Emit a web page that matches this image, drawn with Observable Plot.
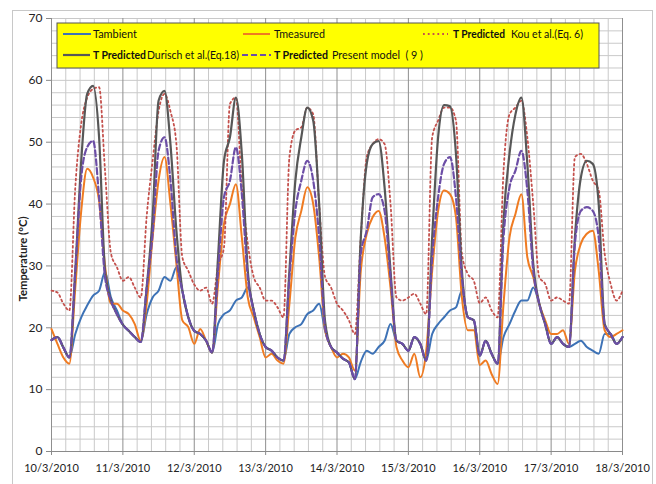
<!DOCTYPE html>
<html><head><meta charset="utf-8">
<script src="https://cdn.jsdelivr.net/npm/d3@7"></script>
<script src="https://cdn.jsdelivr.net/npm/@observablehq/plot@0.6"></script>
<style>
body{margin:0;background:#fff;}
#wrap{position:relative;width:656px;height:484px;overflow:hidden;font-family:Lato,"Open Sans",sans-serif;}
#frame{position:absolute;left:12px;top:10px;width:641px;height:480px;border:1px solid #c8c8c8;box-sizing:border-box;}
#chart{position:absolute;left:0;top:0;}
</style></head><body>
<div id="wrap"><div id="frame"></div><div id="chart"></div></div>
<script>
// sampling: every 2 hours from 10/3/2010 00:00 to 18/3/2010 00:00
const hours = d3.range(0, 193, 2);
const dayLabels = ["10/3/2010","11/3/2010","12/3/2010","13/3/2010","14/3/2010","15/3/2010","16/3/2010","17/3/2010","18/3/2010"];
const yTicks = [0,10,20,30,40,50,60,70];

const tAmbient = [
 18.0,18.5,16.8,15.2,19.0,21.7,23.6,25.2,26.0,29.0,24.9,22.8,
 20.5,19.5,18.5,17.7,22.2,24.9,26.0,28.2,27.6,29.8,26.0,21.7,
 19.5,19.0,17.9,16.0,20.6,22.2,22.8,24.4,24.9,26.5,22.8,19.0,
 16.9,16.3,15.2,14.7,19.0,20.1,20.6,22.2,22.8,23.9,19.5,16.9,
 16.0,15.0,14.4,11.7,14.5,16.3,15.8,16.9,17.9,20.6,17.9,17.4,
 16.3,18.5,17.4,14.7,19.0,20.6,21.7,22.8,23.3,26.0,21.7,21.2,
 15.5,17.9,15.8,14.2,18.5,20.6,22.8,24.4,24.4,26.5,23.9,20.6,
 17.4,18.5,17.4,16.9,17.4,17.9,16.9,16.3,15.8,19.0,19.0,17.4,18.5];
const tMeasured = [
 19.8,17.4,15.2,14.2,26.5,38.9,45.7,44.3,40.5,30.0,23.9,23.9,
 22.8,22.2,20.6,17.9,23.9,34.6,43.8,47.6,40.0,30.3,21.2,20.1,
 17.4,19.8,17.9,16.0,27.0,36.8,40.0,43.2,34.6,24.9,21.7,18.5,
 15.2,15.8,14.7,14.2,23.9,34.6,38.9,42.7,40.0,31.4,19.6,16.9,
 15.2,15.8,15.2,13.1,29.2,35.2,37.9,38.9,34.6,26.5,16.9,14.7,
 13.6,15.8,12.0,16.3,29.2,38.9,42.2,41.6,37.9,24.9,19.6,19.6,
 14.0,14.7,12.5,10.9,23.9,34.6,38.4,41.6,31.4,28.2,23.9,21.2,
 19.0,19.0,19.6,17.4,29.2,33.6,35.2,35.7,29.2,19.6,18.5,19.0,19.6];
const tKou = [
 26.0,25.7,23.9,22.8,42.7,53.0,57.2,58.6,58.9,45.4,32.0,29.8,
 27.6,28.2,26.5,24.9,38.0,47.0,55.0,57.8,55.0,49.7,31.4,29.2,
 27.0,26.0,26.5,23.9,30.0,33.0,56.2,57.2,42.7,33.6,28.2,26.5,
 24.4,24.4,23.3,21.7,47.6,51.9,52.4,55.6,54.5,40.0,28.2,26.5,
 23.9,22.8,21.2,19.0,34.6,47.6,49.7,50.5,49.7,40.0,24.9,24.4,
 24.9,25.5,23.9,22.2,50.8,53.5,55.6,55.6,53.5,32.0,28.7,27.6,
 24.0,24.9,22.8,21.7,45.4,54.5,55.6,56.7,50.8,40.0,28.2,27.1,
 24.4,24.9,24.4,23.9,47.6,48.1,46.5,43.8,42.2,32.0,27.1,24.4,26.0];
const tDurisch = [
 18.0,18.5,16.8,15.2,29.2,47.0,57.8,59.1,50.8,29.2,24.4,22.2,
 20.5,19.5,18.5,17.7,26.5,37.9,56.7,58.3,49.7,35.7,26.0,21.7,
 19.5,19.0,17.9,16.0,31.4,47.0,50.8,57.2,48.1,29.2,22.8,19.0,
 16.9,16.3,15.2,14.7,29.2,43.8,50.8,55.6,53.5,40.0,21.0,16.9,
 16.0,15.0,14.4,11.7,34.6,46.5,49.7,50.2,42.7,29.2,17.9,17.4,
 16.3,18.5,17.4,14.7,34.6,50.8,56.0,55.8,48.1,29.2,21.7,21.2,
 15.5,17.9,15.8,14.2,37.3,48.1,54.5,57.2,46.5,30.3,23.9,20.6,
 17.4,18.5,17.4,16.9,34.6,44.3,47.0,46.5,40.0,20.6,19.0,17.4,18.5];
const tPresent = [
 18.0,18.5,16.8,15.2,29.2,44.3,49.2,50.2,41.1,28.2,24.4,22.2,
 20.5,19.5,18.5,17.7,26.5,35.2,48.6,50.8,43.8,31.4,26.0,21.7,
 19.5,19.0,17.9,16.0,29.2,41.1,43.8,49.2,41.6,28.2,22.8,19.0,
 16.9,16.3,15.2,14.7,28.2,38.9,43.8,47.0,43.8,34.6,20.0,16.9,
 16.0,15.0,14.4,11.7,32.0,35.7,41.1,41.6,38.9,28.2,17.9,17.4,
 16.3,18.5,17.4,14.7,31.4,41.1,46.5,47.6,41.1,28.2,21.7,21.2,
 15.5,17.9,15.8,14.2,34.6,42.7,45.4,48.6,42.2,29.2,23.9,20.6,
 17.4,18.5,17.4,16.9,33.6,38.9,39.5,38.9,34.6,20.6,19.0,17.4,18.5];

const legendRow1 = ["Tambient", "Tmeasured", "T Predicted", "Kou et al.(Eq. 6)"];
const legendRow2 = ["T Predicted", "Durisch et al.(Eq.18)", "T Predicted", "Present model  ( 9 )"];
const yTitle = "Temperature (°C)";

const t0 = Date.UTC(2010, 2, 10);
const toDate = h => new Date(t0 + h * 3600e3);
const dayTicks = d3.range(0, 9).map(d => toDate(d * 24));
const minorX = d3.range(0, 41).filter(i => i % 5 !== 0).map(i => toDate(i * 4.8));
const gridY = d3.range(2, 71, 2);
const fmt = d => dayLabels[Math.round((d - t0) / 86400e3)];

const series = [
  {vals: tAmbient, stroke: "#3d72b6", w: 2},
  {vals: tMeasured, stroke: "#ef7b22", w: 2},
  {vals: tKou, stroke: "#c4504c", w: 1.8, dash: "1.8,3"},
  {vals: tDurisch, stroke: "#575757", w: 2.2},
  {vals: tPresent, stroke: "#6c4ea6", w: 2.2, dash: "6,3"}
];

const plot = Plot.plot({
  width: 656, height: 484,
  marginLeft: 51, marginRight: 34, marginTop: 18, marginBottom: 33,
  style: {fontFamily: "Lato, sans-serif", fontSize: "12px", color: "#222", background: "transparent"},
  x: {type: "utc", domain: [toDate(0), toDate(192)]},
  y: {domain: [0, 70]},
  marks: [
    Plot.ruleX(minorX, {stroke: "#c9c9c9"}),
    Plot.ruleY(gridY, {stroke: "#c9c9c9"}),
    Plot.ruleX(dayTicks, {stroke: "#8f8f8f"}),
    Plot.ruleY([0], {stroke: "#8a8a8a"}),
    Plot.axisX({ticks: dayTicks, tickSize: 4, tickPadding: 9, tickFormat: fmt, fontSize: 11, label: null, stroke: "#8a8a8a"}),
    Plot.axisY({ticks: yTicks, tickSize: 5, tickPadding: 4, label: null, fontSize: 12, stroke: "#8a8a8a"}),
    ...series.map(s => Plot.line(hours, {
      x: h => toDate(h), y: (h, i) => s.vals[i],
      stroke: s.stroke, strokeWidth: s.w, strokeDasharray: s.dash, curve: "monotone-x"
    }))
  ]
});
document.getElementById("chart").append(plot);

const svg = d3.select(plot);
// y title
svg.append("text").attr("transform", "translate(27,259) rotate(-90)")
  .attr("text-anchor", "middle").attr("font-size", 11).attr("font-weight", "bold")
  .attr("fill", "#222").attr("textLength", 85).attr("lengthAdjust", "spacingAndGlyphs").text(yTitle);

// legend
const lg = svg.append("g").attr("font-size", 11.5).attr("fill", "#111").attr("text-anchor", "start");
lg.append("rect").attr("x", 57).attr("y", 23).attr("width", 542).attr("height", 45)
  .attr("fill", "#ffff00").attr("stroke", "#555").attr("stroke-width", 1);
const sample = (x1, x2, y, s) => lg.append("line").attr("x1", x1).attr("x2", x2).attr("y1", y).attr("y2", y)
  .attr("stroke", s.stroke).attr("stroke-width", s.w).attr("stroke-dasharray", s.dash || null);
const label = (x, y, w, txt, bold) => lg.append("text").attr("x", x).attr("y", y).attr("dy", "0.35em")
  .attr("text-anchor", "start")
  .attr("font-weight", bold ? "bold" : null).attr("textLength", w).attr("lengthAdjust", "spacingAndGlyphs").text(txt);
sample(63, 91, 34, series[0]); label(93, 34, 44, legendRow1[0]);
sample(243, 270, 34, series[1]); label(274, 34, 51, legendRow1[1]);
sample(423, 448, 34, series[2]); label(453, 34, 52, legendRow1[2], true); label(511, 34, 72, legendRow1[3]);
sample(63, 90, 55, series[3]); label(93, 55, 53, legendRow2[0], true); label(147, 55, 92, legendRow2[1]);
sample(242, 271, 55, series[4]); label(274, 55, 54, legendRow2[2], true); label(332, 55, 91, legendRow2[3]);
</script>
</body></html>
